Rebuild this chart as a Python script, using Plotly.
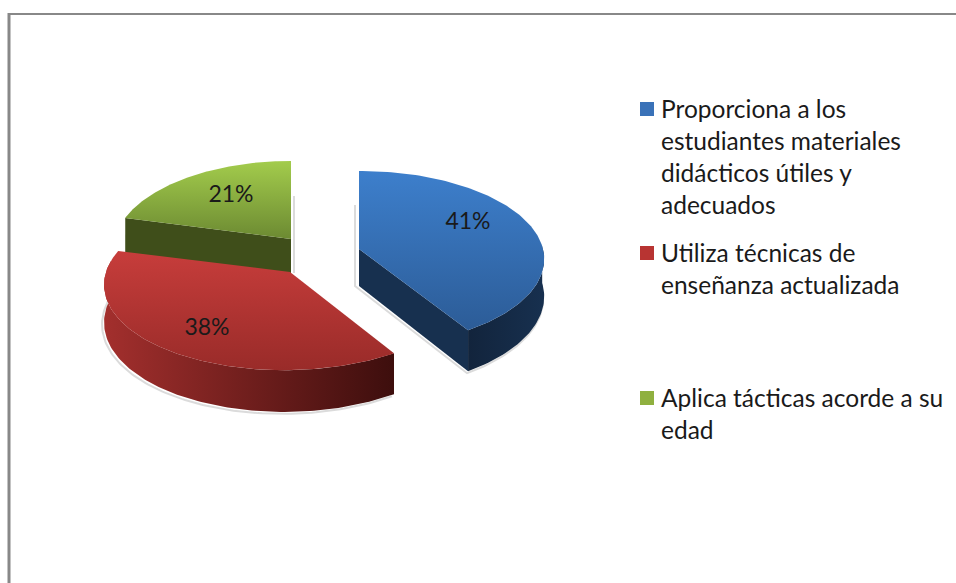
import numpy as np
import plotly.graph_objects as go

# chart data
labels = ['Proporciona a los estudiantes materiales didácticos útiles y adecuados',
          'Utiliza técnicas de enseñanza actualizada',
          'Aplica tácticas acorde a su edad']
values = [41, 38, 21]
pct_text = ['41%', '38%', '21%']
legend_lines = [['Proporciona a los', 'estudiantes materiales', 'didácticos útiles y', 'adecuados'],
                ['Utiliza técnicas de', 'enseñanza actualizada'],
                ['Aplica tácticas acorde a su', 'edad']]

# look of the fake 3d pie
B, K, H = 87, 0.1137, 37
widths = [184, 184, 176]
shear = [0, 6, 0]
apex = [(359, 249), (290, 272), (291, 239)]
pct_pos = [(468, 223), (207, 329), (231, 196)]
legend_y = [108, 252, 397]
top_cols = [('#3d7fcc', '#2c5c97'), ('#c73d3b', '#992b29'), ('#a3cc4c', '#6c8a32')]
cut_cols = ['#17304f', None, '#3f4e1a']
wall_cols = [('#17304f', '#12243c'), ('#a32f2d', '#3d0e0d'), None]
swatch = ['#3a72b8', '#b83432', '#8fb03f']
FONT = 'Lato'

bounds = np.cumsum([0] + values) / sum(values) * 2 * np.pi


def proj(i, theta, down=0.0):
    u, v = np.sin(theta), -np.cos(theta)
    s = 1 / (1 - K * v)
    return (apex[i][0] + widths[i] * u * s - shear[i] * v,
            apex[i][1] + B * v * s + down * s)


def poly(x, y, name, cols=None, horizontal=False, flat=None):
    kw = dict(fillcolor=flat) if flat else dict(fillgradient=dict(
        type='horizontal' if horizontal else 'vertical',
        colorscale=[[0, cols[0]], [1, cols[1]]]))
    return go.Scatter(x=np.r_[x, x[0]], y=np.r_[y, y[0]], mode='lines', fill='toself',
                      line=dict(width=0), name=name, hoverinfo='name', showlegend=False, **kw)


def shadow(x, y):
    return go.Scatter(x=x, y=y, mode='lines', showlegend=False, hoverinfo='skip',
                      line=dict(color='rgba(110,110,110,0.25)', width=2))


fig = go.Figure()

# draw back slice first
for i in [2, 0, 1]:
    c = apex[i]
    t0, t1 = bounds[i], bounds[i + 1]
    th = np.linspace(t0, t1, 120)
    ax, ay = proj(i, th)

    # soft shadow along the lower rim
    if i == 2:
        fig.add_trace(shadow([c[0] + 3, c[0] + 3], [c[1] - 43, c[1] + 34]))
    elif i == 0:
        rim = th[th > np.radians(88)]
        sx, sy = proj(i, rim[::-1], down=H)
        fig.add_trace(shadow(np.r_[c[0] - 4, c[0] - 4, sx - 1], np.r_[c[1] - 44, c[1] + H, sy + 2]))
    else:
        rim = th[th < np.radians(278)]
        sx, sy = proj(i, rim, down=H)
        fig.add_trace(shadow(sx - 2, sy + 2))

    # straight cut face
    if cut_cols[i]:
        edge = t1 if i == 0 else t0
        ex, ey = proj(i, edge)
        ex2, ey2 = proj(i, edge, down=H)
        fig.add_trace(poly([c[0], ex, ex2, c[0]], [c[1], ey, ey2, c[1] + H],
                           labels[i], flat=cut_cols[i]))

    # outer rim
    if wall_cols[i]:
        wt = th[(th < np.radians(278)) & (th > np.radians(88))]
        wx, wy = proj(i, wt)
        bx, by = proj(i, wt, down=H)
        fig.add_trace(poly(np.r_[wx, bx[::-1]], np.r_[wy, by[::-1]], labels[i],
                           cols=wall_cols[i][::-1] if i == 0 else wall_cols[i], horizontal=True))

    # top
    fig.add_trace(poly(np.r_[c[0], ax], np.r_[c[1], ay], labels[i], cols=top_cols[i][::-1]))

fig.add_trace(go.Scatter(x=[p[0] for p in pct_pos], y=[p[1] for p in pct_pos], mode='text',
                         text=pct_text, hoverinfo='skip', showlegend=False,
                         textfont=dict(family=FONT, size=23, color='#1a1a1a')))

# legend
fig.add_trace(go.Scatter(x=[647] * 3, y=[y + 1 for y in legend_y], mode='markers', hoverinfo='skip',
                         showlegend=False,
                         marker=dict(symbol='square', size=14, color=swatch, line=dict(width=0))))
for lines, y0 in zip(legend_lines, legend_y):
    for j, line in enumerate(lines):
        fig.add_annotation(x=659, y=y0 + j * 32, text=line, showarrow=False, xanchor='left',
                           font=dict(family=FONT, size=24.5, color='#1a1a1a'))

fig.add_shape(type='line', x0=9, x1=9, y0=13, y1=583, line=dict(color='#888888', width=3))
fig.add_shape(type='line', x0=8, x1=956, y0=14, y1=14, line=dict(color='#888888', width=2))

fig.update_xaxes(range=[0, 956], visible=False)
fig.update_yaxes(range=[583, 0], visible=False)
fig.update_layout(width=956, height=583, margin=dict(l=0, r=0, t=0, b=0),
                  paper_bgcolor='white', plot_bgcolor='white', showlegend=False)
fig.write_html("out.html", config=dict(displayModeBar=False),
               post_script="document.body.style.margin='0';")
